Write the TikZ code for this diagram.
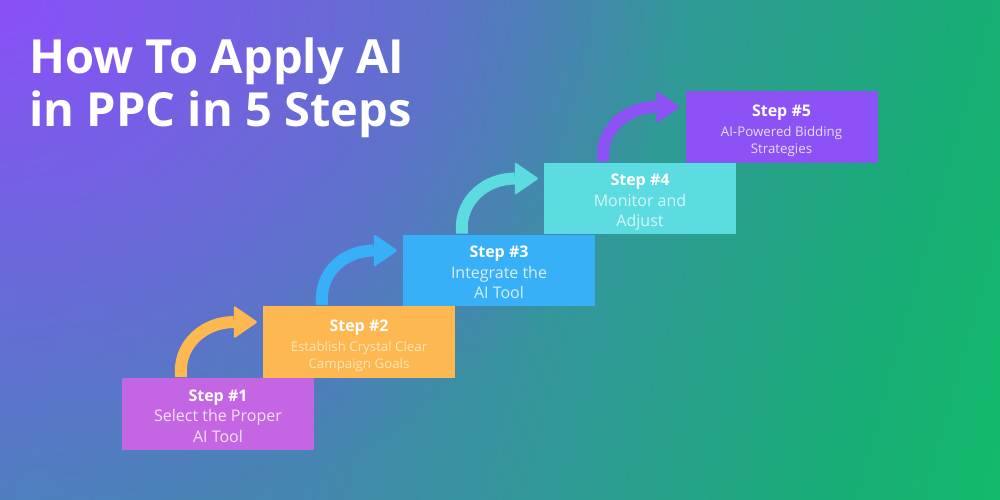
\documentclass[tikz,border=0pt]{standalone}
\usepackage{fontspec}
\setmainfont{Open Sans}
\usetikzlibrary{fadings,calc}
\definecolor{bgA}{HTML}{5080C4}
\definecolor{bgB}{HTML}{4586B0}
\definecolor{bgC}{HTML}{309A96}
\definecolor{bgD}{HTML}{18AC76}
\definecolor{bgE}{HTML}{12BE68}
\definecolor{bgpurple}{HTML}{8A50F8}
\definecolor{cOne}{HTML}{C466E3}
\definecolor{cTwo}{HTML}{FDB851}
\definecolor{cThree}{HTML}{38B0F8}
\definecolor{cFour}{HTML}{5CDCE0}
\definecolor{cFive}{HTML}{8C52F6}
\colorlet{dOne}{white!80!cOne}
\colorlet{dTwo}{white!62!cTwo}
\colorlet{dThree}{white!80!cThree}
\colorlet{dFour}{white!75!cFour}
\colorlet{dFive}{white!80!cFive}
\tikzfading[name=purplefade, inner color=transparent!0, outer color=transparent!100]
\newcommand\stl[1]{{\bfseries\fontsize{16}{20}\selectfont #1}}
\newcommand\dline[2]{{\color{#1}#2}}
\tikzset{
  stepbox/.style={minimum width=192pt, minimum height=71.5pt, inner sep=0pt, draw=none},
  boxtext/.style={inner sep=0pt, align=center, text=white},
  bigtext/.style={font=\fontsize{16}{20.5}\selectfont},
  smalltext/.style={font=\fontsize{13.3}{17}\selectfont},
  shaft/.style={line width=12pt},
  titletext/.style={font=\bfseries\fontsize{47}{54}\selectfont, text=white, inner sep=0pt, anchor=base west},
}
\begin{document}
\begin{tikzpicture}[x=1pt,y=-1pt]
\useasboundingbox (0,0) rectangle (1000,500);
\begin{scope}
  \clip (0,0) rectangle (1000,500);
  \begin{scope}[transform canvas={rotate around={-15.6:(500,250)}}]
    \shade[left color=bgA, right color=bgB] (-100,-400) rectangle (371,900);
    \shade[left color=bgB, right color=bgC] (370,-400) rectangle (621,900);
    \shade[left color=bgC, right color=bgD] (620,-400) rectangle (881,900);
    \shade[left color=bgD, right color=bgE] (880,-400) rectangle (1100,900);
  \end{scope}
  \fill[bgpurple, path fading=purplefade] (0,0) ellipse [x radius=680, y radius=530];
\end{scope}

\node[titletext] (t1) at (29,74) {How To Apply AI};
\node[titletext] (t2) at (29,127) {in PPC in 5 Steps};

\node[stepbox, fill=cOne] (b1) at (218,414) {};
\node[stepbox, fill=cTwo] (b2) at (359,342) {};
\node[stepbox, fill=cThree] (b3) at (499,270.5) {};
\node[stepbox, fill=cFour] (b4) at (640,198.5) {};
\node[stepbox, fill=cFive] (b5) at (781.5,127) {};

\node[boxtext, bigtext] (x1) at ([yshift=-2pt]b1.center) {\stl{Step \#1}\\\dline{dOne}{Select the Proper}\\\dline{dOne}{AI Tool}};
\node[boxtext, smalltext] (x2) at ([yshift=-4pt]b2.center) {\stl{Step \#2}\\[3pt]\dline{dTwo}{Establish Crystal Clear}\\\dline{dTwo}{Campaign Goals}};
\node[boxtext, bigtext] (x3) at ([yshift=-2pt]b3.center) {\stl{Step \#3}\\\dline{dThree}{Integrate the}\\\dline{dThree}{AI Tool}};
\node[boxtext, bigtext] (x4) at ([yshift=-4pt]b4.center) {\stl{Step \#4}\\\dline{dFour}{Monitor and}\\\dline{dFour}{Adjust}};
\node[boxtext, smalltext] (x5) at ([yshift=-4pt]b5.center) {\stl{Step \#5}\\[3pt]\dline{dFive}{AI-Powered Bidding}\\\dline{dFive}{Strategies}};

\foreach \a/\b/\c in {b1/b2/cTwo, b2/b3/cThree, b3/b4/cFour, b4/b5/cFive}{
  \coordinate (s-\a) at ([xshift=59pt,yshift=1pt]\a.north west);
  \coordinate (t-\a) at ([xshift=-5pt,yshift=-16pt]\b.north west);
  \coordinate (e-\a) at ([xshift=-24pt]t-\a);
  \draw[shaft, \c] (s-\a) -- ++(0,-6) .. controls +(0,-28) and +(-29,0) .. (e-\a);
  \fill[\c, rounded corners=1.5pt] ([yshift=16.5pt]e-\a) -- (t-\a) -- ([yshift=-16.5pt]e-\a) -- cycle;
}
\end{tikzpicture}
\end{document}
